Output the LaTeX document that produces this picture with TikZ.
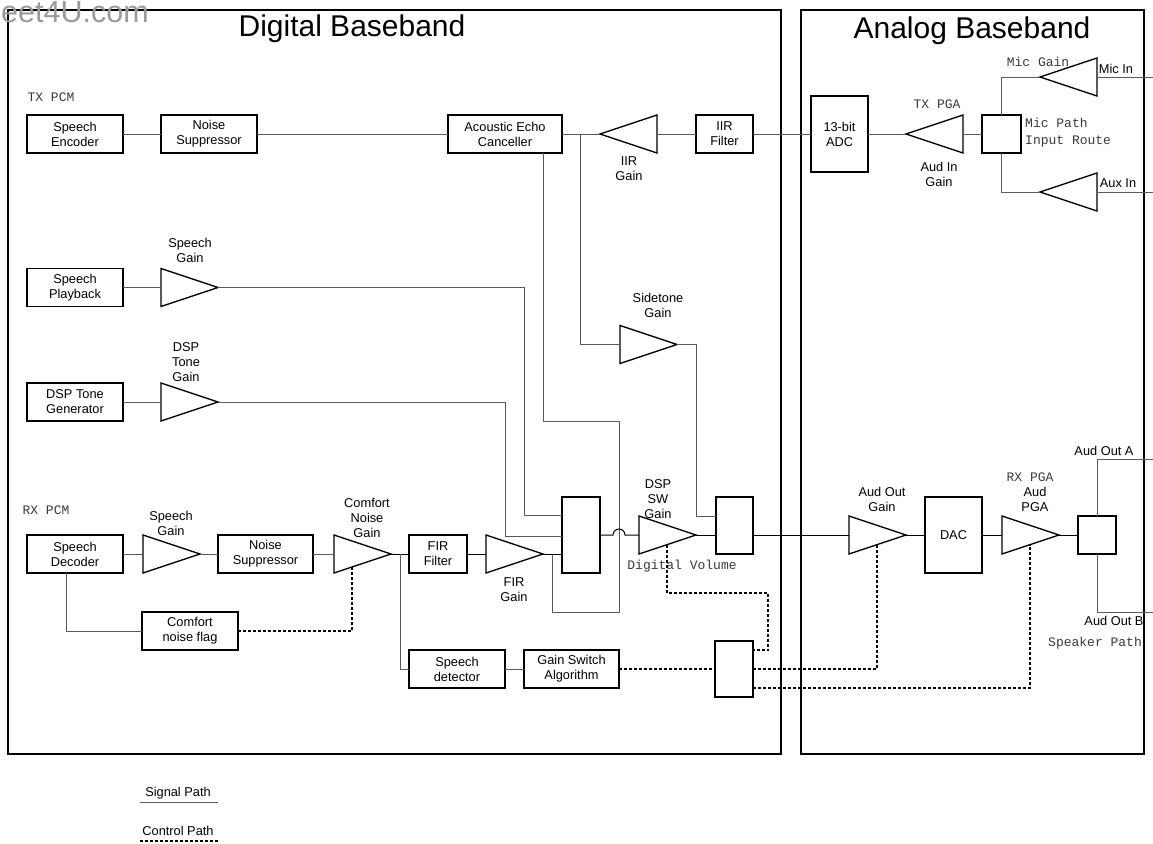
\documentclass[tikz,border=0pt]{standalone}
\usepackage{fontspec}
\setmainfont{Liberation Sans}
\setmonofont{Liberation Mono}
\usetikzlibrary{shapes.geometric,calc}
\definecolor{wire}{HTML}{5A5A5A}
\definecolor{wmark}{HTML}{9A9A9A}
\definecolor{monoc}{HTML}{3A3A3A}
\newcommand{\boxfont}{\fontsize{12.8}{15}\selectfont}
\newcommand{\monotxt}{\ttfamily\fontsize{13}{17}\selectfont}
\newcommand{\bbtitle}{\fontsize{30}{36}\selectfont}
\tikzset{
  blk/.style={rectangle, draw, line width=1.3pt, fill=white, align=center, inner sep=1pt,
              outer sep=0pt, font=\boxfont, minimum width=96, minimum height=38},
  amp/.style={isosceles triangle, isosceles triangle stretches, draw, line width=1.3pt,
              minimum width=38, minimum height=57, inner sep=0pt, outer sep=0pt, anchor=apex},
  ampl/.style={amp, shape border rotate=180},
  lbl/.style={font=\boxfont, align=center, inner sep=0pt},
  mono/.style={font=\monotxt, color=monoc, inner sep=0pt},
  ttl/.style={font=\bbtitle, inner sep=0pt},
  frame/.style={line width=1.4pt},
  sig/.style={line width=1pt, draw=wire},
  sigk/.style={line width=1pt, draw=black},
  ctrl/.style={line width=1.3pt, dash pattern=on 3pt off 2pt},
}

\begin{document}
\begin{tikzpicture}[x=1pt,y=-1pt]
  \useasboundingbox (0,0) rectangle (1153,843);
  % frames and titles
  \draw[frame] (8,10) rectangle (781,754);
  \draw[frame] (801,10) rectangle (1144,754);
  \node[font=\fontsize{30.5}{36}\selectfont, color=wmark, inner sep=0pt, anchor=base west] (wm) at (1,23) {eet4U.com};
  \node[ttl, anchor=base] (tDig) at (352,37) {Digital Baseband};
  \node[ttl, anchor=base] (tAna) at (972,39) {Analog Baseband};

  % TX path
  \node[mono] (txPcm) at (51,97) {TX PCM};
  \node[blk] (enc) at (75,134) {Speech\\Encoder};
  \node[blk] (nsTx) at (209,134) {Noise\\Suppressor};
  \node[blk, minimum width=114] (aec) at (505,134) {Acoustic Echo\\Canceller};
  \node[ampl] (iirG) at (600,134) {};
  \node[lbl] (iirGl) at (629,169) {IIR\\Gain};
  \node[blk, minimum width=57] (iirF) at (724.5,134) {IIR\\Filter};
  \node[blk, minimum width=57, minimum height=76] (adc) at (839.5,134) {13-bit\\ADC};
  \node[ampl] (txPga) at (906,134) {};
  \node[mono] (txPgaL) at (937,104) {TX PGA};
  \node[lbl] (txPgaG) at (939,174) {Aud In\\Gain};
  \node[blk, minimum width=39] (route) at (1001.5,134) {};
  \node[mono, anchor=west, align=left] (routeL) at (1025,133) {Mic Path\\Input Route};
  \node[ampl] (micG) at (1040,77) {};
  \node[mono] (micGL) at (1038,62) {Mic Gain};
  \node[lbl] (micIn) at (1116,69) {Mic In};
  \node[ampl] (auxG) at (1040,192) {};
  \node[lbl] (auxIn) at (1118,183) {Aux In};
  \coordinate (micEnd) at (1153,77);
  \coordinate (auxEnd) at (1153,192);

  % playback and tone
  \node[blk] (play) at (75,287.5) {Speech\\Playback};
  \node[amp] (spG) at (218,287.5) {};
  \node[lbl] (spGl) at (190,250) {Speech\\Gain};
  \node[blk] (tone) at (75,402) {DSP Tone\\Generator};
  \node[amp] (toneG) at (218,402) {};
  \node[lbl] (toneGl) at (186,362) {DSP\\Tone\\Gain};
  \node[amp] (sideG) at (677,344.5) {};
  \node[lbl] (sideGl) at (658,305) {Sidetone\\Gain};

  % RX path
  \node[mono] (rxPcm) at (46,510) {RX PCM};
  \node[blk] (dec) at (75,554) {Speech\\Decoder};
  \node[amp] (rxSpG) at (200,554) {};
  \node[lbl] (rxSpGl) at (171,523) {Speech\\Gain};
  \node[blk, minimum width=95] (nsRx) at (265.5,554) {Noise\\Suppressor};
  \node[amp] (cnG) at (391,554) {};
  \node[lbl] (cnGl) at (367,518) {Comfort\\Noise\\Gain};
  \node[blk, minimum width=58] (firF) at (438,554) {FIR\\Filter};
  \node[amp] (firG) at (543,554) {};
  \node[lbl] (firGl) at (514,590) {FIR\\Gain};
  \node[blk, minimum width=38, minimum height=76] (mixA) at (581,535) {};
  \node[amp] (swG) at (696,535) {};
  \node[lbl] (swGl) at (658,499) {DSP\\SW\\Gain};
  \node[mono] (volL) at (682,566) {Digital Volume};
  \node[blk, minimum width=37, minimum height=57] (mixB) at (734.5,525.5) {};
  \node[blk] (cnf) at (190,631) {Comfort\\noise flag};
  \node[blk] (det) at (457,669) {Speech\\detector};
  \node[blk, minimum width=95] (gsa) at (571.5,669) {Gain Switch\\Algorithm};
  \node[blk, minimum width=38, minimum height=56] (swCtl) at (734,669) {};

  % analog output
  \node[amp] (aoG) at (906,535) {};
  \node[lbl] (aoGl) at (882,499) {Aud Out\\Gain};
  \node[blk, minimum width=57, minimum height=76] (dac) at (953.5,535) {DAC};
  \node[amp] (pga) at (1059,535) {};
  \node[mono] (rxPgaL) at (1030,477) {RX PGA};
  \node[lbl] (pgaL) at (1035,499) {Aud\\PGA};
  \node[blk, minimum width=38] (out) at (1097,535) {};
  \node[lbl] (outAL) at (1104,451) {Aud Out A};
  \node[lbl] (outBL) at (1114,621) {Aud Out B};
  \node[mono] (spkL) at (1095,643) {Speaker Path};
  \coordinate (outA) at (1153,459);
  \coordinate (outB) at (1153,612);

  % signal connections
  \draw[sig] (enc) -- (nsTx);
  \draw[sig] (nsTx) -- (aec);
  \draw[sig] (aec) -- (iirG.apex);
  \draw[sig] (iirF) -- (iirG);
  \draw[sig] (iirF) -- (adc);
  \draw[sig] (adc) -- (txPga.apex);
  \draw[sig] (route) -- (txPga);
  \draw[sig] (route.north) |- (micG.apex);
  \draw[sig] (route.south) |- (auxG.apex);
  \draw[sig] (micG) -- (micEnd);
  \draw[sig] (auxG) -- (auxEnd);
  \coordinate (tap) at (580,134);
  \draw[sig] (tap) |- (sideG);
  \draw[sig] (sideG.apex) -| ($(mixB.west)+(-20,-9.5)$) -- ($(mixB.west)+(0,-9.5)$);
  \draw[sig] (play) -- (spG);
  \draw[sig] (spG.apex) -| ($(mixA.west)+(-38,-20)$) -- ($(mixA.west)+(0,-20)$);
  \draw[sig] (tone) -- (toneG);
  \draw[sig] (toneG.apex) -| ($(mixA.west)+(-57,1)$) -- ($(mixA.west)+(0,1)$);
  \coordinate (firTap) at ($(firG.apex)+(9,0)$);
  \draw[sig] ($(aec.south east)+(-19,0)$) |- (619,421) |- (firTap |- 0,612) -- (firTap);
  \draw[sig] (dec) -- (rxSpG);
  \draw[sig] (rxSpG.apex) -- (nsRx);
  \draw[sig] (nsRx) -- (cnG);
  \draw[sigk] (cnG.apex) -- (firF);
  \draw[sigk] (firF) -- (firG);
  \draw[sigk] (firG.apex) -- (firG.apex -| mixA.west);
  \draw[sig] ($(dec.south)+(-9,0)$) |- (cnf);
  \coordinate (cnTap) at (400,554);
  \draw[sig] (cnTap) |- (det);
  \draw[sig] (det) -- (gsa);
  \draw[sigk] (mixA) -- (613,535) arc[start angle=180, end angle=0, radius=6pt] -- (swG);
  \draw[sigk] (swG.apex) -- ($(mixB.west)+(0,9.5)$);
  \draw[sigk] ($(mixB.east)+(0,9.5)$) -- (aoG);
  \draw[sigk] (aoG.apex) -- (dac);
  \draw[sigk] (dac) -- (pga);
  \draw[sigk] (pga.apex) -- (out);
  \draw[sig] (out.north) |- (outA);
  \draw[sig] (out.south) |- (outB);

  % control connections
  \draw[ctrl] (cnf) -| ($(cnG.apex)+(-39,12.8)$);
  \draw[ctrl] ($(swG.apex)+(-29,9.5)$) |- (768,593) |- ($(swCtl.east)+(0,-19)$);
  \draw[ctrl] (gsa) -- (swCtl);
  \draw[ctrl] (swCtl) -| ($(aoG.apex)+(-29,9.5)$);
  \draw[ctrl] ($(swCtl.east)+(0,19)$) -| ($(pga.apex)+(-29,9.5)$);

  % legend
  \node[lbl] (legSig) at (178,793) {Signal Path};
  \draw[sig] ($(legSig.south west)+(-5,3)$) -- ($(legSig.south east)+(7,3)$);
  \node[lbl] (legCtl) at (178,831) {Control Path};
  \draw[ctrl] ($(legCtl.south west)+(-2,5)$) -- ($(legCtl.south east)+(5,5)$);
\end{tikzpicture}
\end{document}
